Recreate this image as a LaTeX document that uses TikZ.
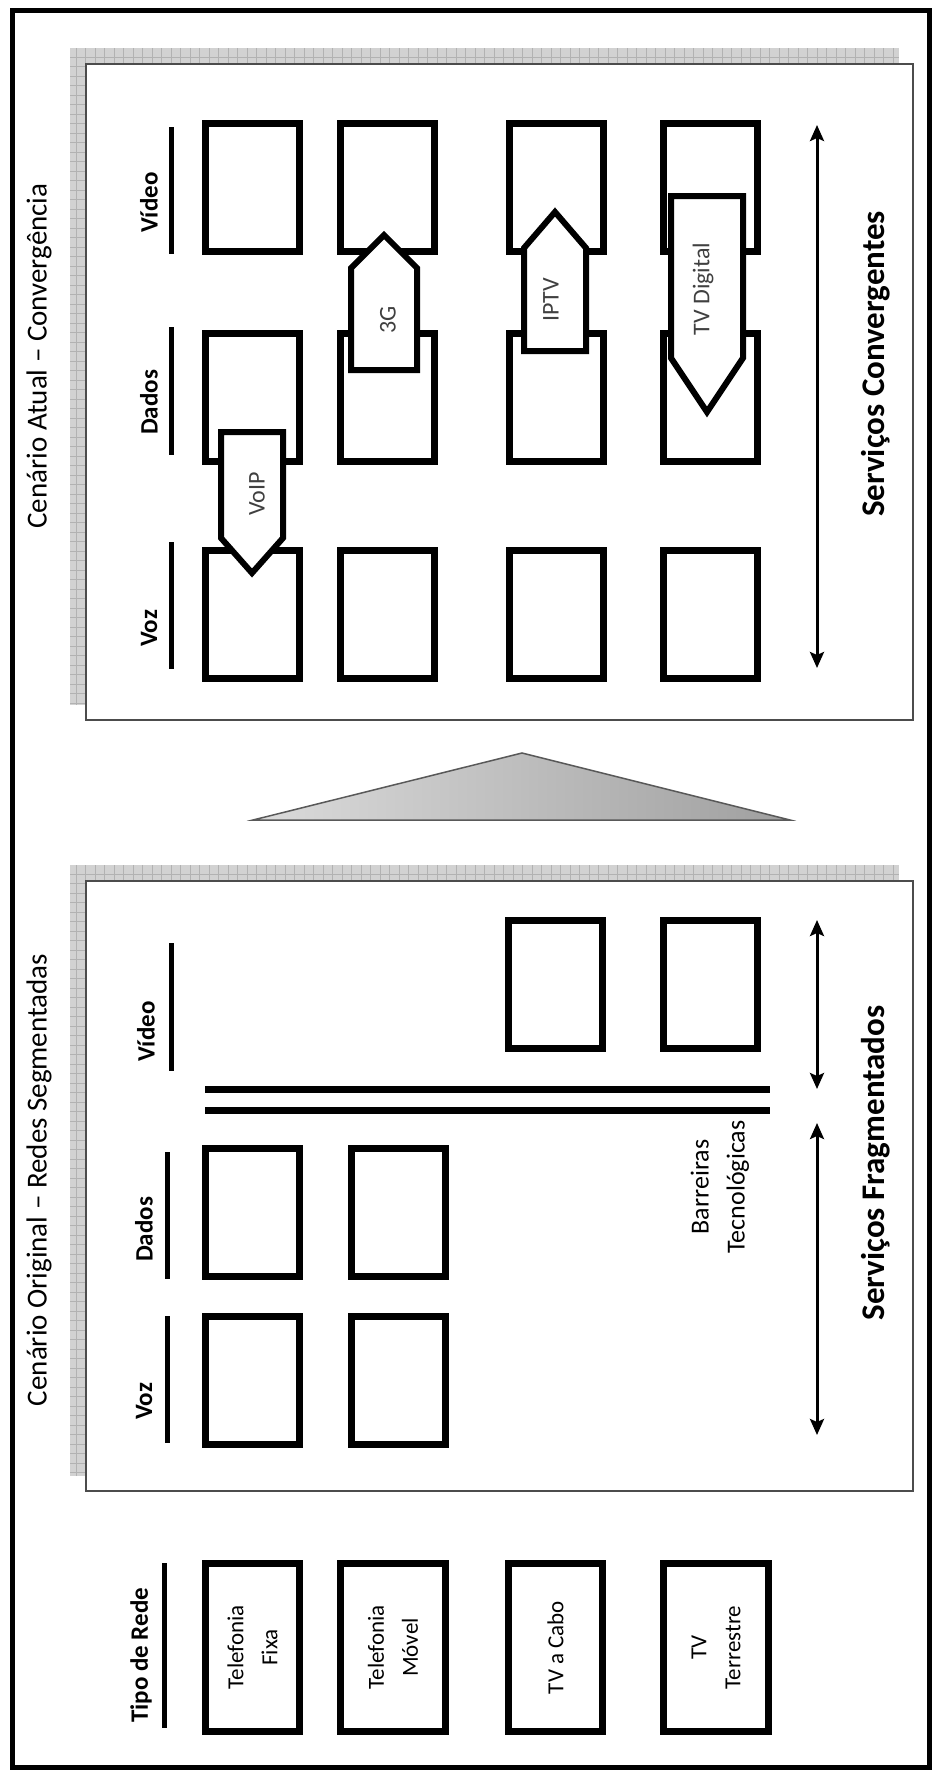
\documentclass[tikz,border=0pt]{standalone}
\usepackage{fontspec}
\setmainfont{Carlito}
\usetikzlibrary{arrows.meta}

\begin{document}
\begin{tikzpicture}[x=1pt, y=-1pt, >={Stealth[length=16pt,width=14pt,inset=3pt]},
    caixa/.style={draw, line width=7pt, minimum width=94pt, minimum height=128pt, inner sep=0pt},
    rede/.style={draw, line width=7pt, rotate=90, minimum width=168pt, minimum height=94pt, inner sep=0pt, align=center, font=\fontsize{23}{34}\selectfont},
    rotulo/.style={rotate=90, anchor=west, inner sep=0pt, font=\bfseries\fontsize{25}{30}\selectfont},
    barra/.style={line width=5pt},
    titulo/.style={rotate=90, inner sep=0pt, font=\fontsize{29}{34}\selectfont},
    servicos/.style={rotate=90, inner sep=0pt, font=\bfseries\fontsize{33}{40}\selectfont},
    seta/.style={draw, line width=6pt, fill=white, line join=miter},
    rotseta/.style={rotate=90, inner sep=0pt, text=black!75, font=\fontsize{24}{28}\selectfont},
    dupla/.style={<->, line width=3pt},
    sombra/.style={fill=gray!35},
    painel/.style={draw=black!70, line width=1.5pt, fill=white}]
    \useasboundingbox (0,0) rectangle (932,1770);
    \draw[line width=5pt] (12,10) rectangle (929.5,1767);

    % cenario atual
    \fill[sombra] (70,48) rectangle (899,705);
    \draw[gray!60, line width=0.6pt, step=9.5pt] (70,705) grid (899,48);
    \draw[painel] (86,64) rectangle (913,720);
    \node[titulo] (tatual) at (39,356) {Cenário Atual – Convergência};

    \draw[barra] (171,127) -- (171,254);
    \draw[barra] (171,327) -- (171,455);
    \draw[barra] (171,542) -- (171,669);
    \node[rotulo] (lvideo) at (149,233) {Vídeo};
    \node[rotulo] (ldados) at (149,435) {Dados};
    \node[rotulo] (lvoz) at (149,647) {Voz};

    \foreach \x/\c in {252.5/1, 387/2, 556/3, 710.5/4} {
        \node[caixa] (v\c) at (\x,187.5) {};
        \node[caixa] (d\c) at (\x,397) {};
        \node[caixa] (z\c) at (\x,614.5) {};
    }

    \draw[seta] (221,432) -- (283,432) -- (283,538) -- (252,573) -- (221,538) -- cycle;
    \node[rotseta] (voip) at (257,494) {VoIP};
    \draw[seta] (351,370) -- (351,268) -- (384,235) -- (417,268) -- (417,370) -- cycle;
    \node[rotseta] (tresg) at (388,320) {3G};
    \draw[seta] (524,351) -- (524,248) -- (555,212) -- (586,248) -- (586,351) -- cycle;
    \node[rotseta] (iptv) at (551,300) {IPTV};
    \draw[seta] (671,196) -- (743,196) -- (743,358) -- (707,412) -- (671,358) -- cycle;
    \node[rotseta] (tvdig) at (703,289) {TV Digital};

    \coordinate (conv1) at (817,125);
    \coordinate (conv2) at (817,668);
    \draw[dupla] (conv1) -- (conv2);
    \node[servicos] (sconv) at (876,364) {Serviços Convergentes};

    % transicao
    \shade[draw=black!65, line width=1.5pt, left color=gray!28, middle color=gray!35, right color=gray!75]
        (253,820) -- (522,753) -- (790,820) -- cycle;

    % cenario original
    \fill[sombra] (70,865) rectangle (899,1476);
    \draw[gray!60, line width=0.6pt, step=9.5pt] (70,1476) grid (899,865);
    \draw[painel] (86,881) rectangle (913,1491);
    \node[titulo] (torig) at (39,1180) {Cenário Original – Redes Segmentadas};

    \draw[barra] (171,943) -- (171,1071);
    \draw[barra] (167,1152) -- (167,1279);
    \draw[barra] (167,1316) -- (167,1443);
    \node[rotulo] (lvideob) at (146,1062) {Vídeo};
    \node[rotulo] (ldadosb) at (144,1262) {Dados};
    \node[rotulo] (lvozb) at (144,1420) {Voz};

    \node[caixa] (vb3) at (555.5,984.5) {};
    \node[caixa] (vb4) at (710.5,984.5) {};
    \node[caixa] (db1) at (252.5,1212) {};
    \node[caixa] (db2) at (398.5,1212) {};
    \node[caixa] (zb1) at (252.5,1380) {};
    \node[caixa] (zb2) at (398.5,1380) {};

    \draw[line width=7pt] (205,1089.5) -- (770,1089.5);
    \draw[line width=7pt] (205,1110.5) -- (770,1110.5);
    \node[rotate=90, align=center, inner sep=0pt, font=\fontsize{26}{36}\selectfont] (barreiras) at (720,1187) {Barreiras\\Tecnológicas};

    \coordinate (frag1) at (817,920);
    \coordinate (frag2) at (817,1089);
    \coordinate (frag3) at (817,1123);
    \coordinate (frag4) at (817,1435);
    \draw[dupla] (frag1) -- (frag2);
    \draw[dupla] (frag3) -- (frag4);
    \node[servicos] (sfrag) at (876,1163) {Serviços Fragmentados};

    % tipo de rede
    \draw[barra] (164,1563) -- (164,1728);
    \node[rotulo] (ltipo) at (141,1723) {Tipo de Rede};
    \node[rede] (fixa) at (252.5,1647.5) {Telefonia\\Fixa};
    \node[rede, minimum height=105pt] (movel) at (393,1647.5) {Telefonia\\Móvel};
    \node[rede] (cabo) at (555.5,1647.5) {TV a Cabo};
    \node[rede, minimum height=105pt] (terr) at (716,1647.5) {TV\\Terrestre};
\end{tikzpicture}
\end{document}
